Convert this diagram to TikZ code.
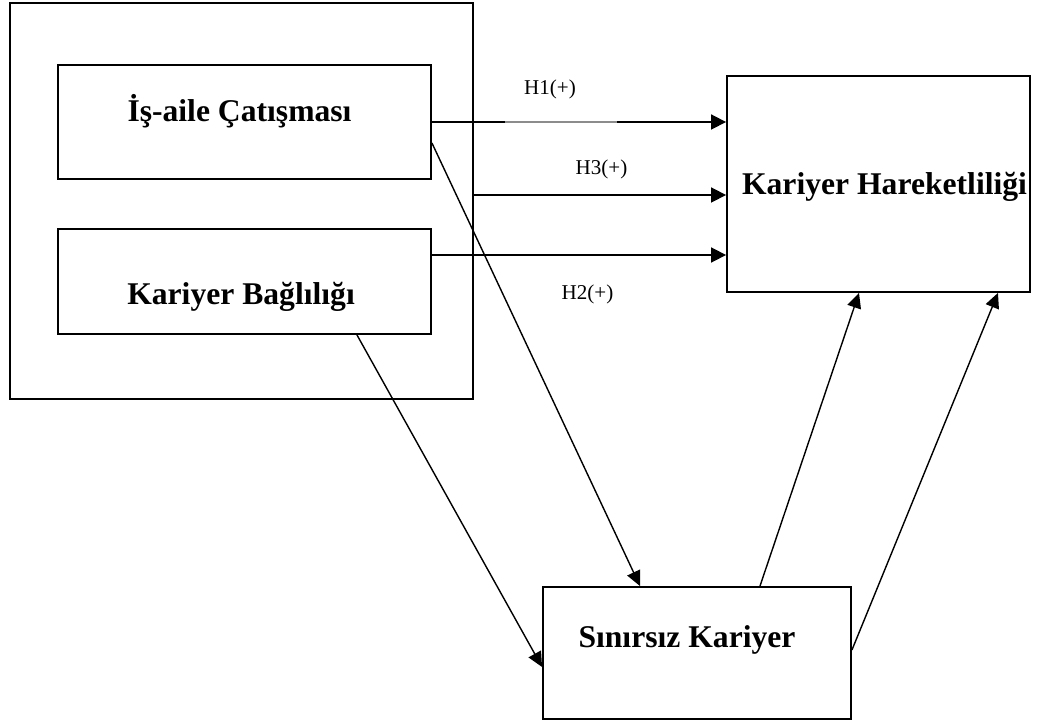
\documentclass[tikz,border=0pt]{standalone}
\usepackage{fontspec}
\setmainfont{Liberation Serif}
\usetikzlibrary{positioning,calc,arrows.meta}
\tikzset{
grpframe/.style={draw=black,line width=1.1pt,minimum width=9.26cm,minimum height=7.92cm,inner sep=0pt},
varbox/.style={draw=black,line width=1.1pt,inner sep=0pt,font=\fontsize{18}{22}\selectfont\bfseries},
hyplabel/.style={font=\fontsize{12}{14}\selectfont,anchor=base,inner sep=0pt},
flowarrow/.style={-{Triangle[length=3mm,width=3mm]},line width=1pt,black},
slantarrow/.style={-{Triangle[length=3mm,width=2.8mm]},line width=0.8pt,black},
gapline/.style={line width=0.6pt,black!45}
}

\begin{document}
\begin{tikzpicture}[x=0.02cm,y=-0.02cm]
\useasboundingbox (0,0) rectangle (1039,722);
\node[grpframe] (grp) at (241.5,201) {};
\node[varbox,minimum width=7.46cm,minimum height=2.28cm,text height=0.35cm,text depth=0.35cm] (wfc) at (244.5,122) {İş-aile Çatışması\hspace*{0.2cm}};
\node[varbox,minimum width=7.46cm,minimum height=2.1cm,text height=1.04cm,text depth=0.1cm] (bc) at (244.5,281.5) {Kariyer Bağlılığı\hspace*{0.14cm}};
\node[varbox,minimum width=6.06cm,minimum height=4.32cm,text height=0.54cm,text depth=0.1cm] (hm) at (878.5,184) {\hspace*{0.24cm}Kariyer Hareketliliği};
\node[varbox,minimum width=6.16cm,minimum height=2.64cm,text height=0.35cm,text depth=0.55cm] (bcar) at (697,653) {Sınırsız Kariyer\hspace*{0.4cm}};

\draw[flowarrow] (wfc.east) -- (hm.west |- wfc.east);
\path (wfc.east) -- (hm.west |- wfc.east) coordinate[pos=0.25] (g1) coordinate[pos=0.63] (g2);
\draw[white,line width=1.4pt] (g1) -- (g2);
\draw[gapline] (g1) -- (g2);
\draw[flowarrow] ([yshift=0.12cm]grp.east) -- ([yshift=0.12cm]grp.east -| hm.west);
\draw[flowarrow] ([yshift=0.53cm]bc.east) -- ([yshift=0.53cm]bc.east -| hm.west);

\node[hyplabel] (h1) at (550,95) {H1(+)};
\node[hyplabel] (h3) at (601.5,175) {H3(+)};
\node[hyplabel] (h2) at (587.5,300) {H2(+)};

\draw[slantarrow] ([yshift=-0.42cm]wfc.east) -- ([xshift=-1.14cm]bcar.north);
\draw[slantarrow] ([xshift=2.25cm]bc.south) -- ([yshift=-0.28cm]bcar.west);
\draw[slantarrow] ([xshift=1.26cm]bcar.north) -- ([xshift=-0.39cm]hm.south);
\draw[slantarrow] ([yshift=0.06cm]bcar.east) -- ([xshift=2.39cm]hm.south);
\end{tikzpicture}
\end{document}
